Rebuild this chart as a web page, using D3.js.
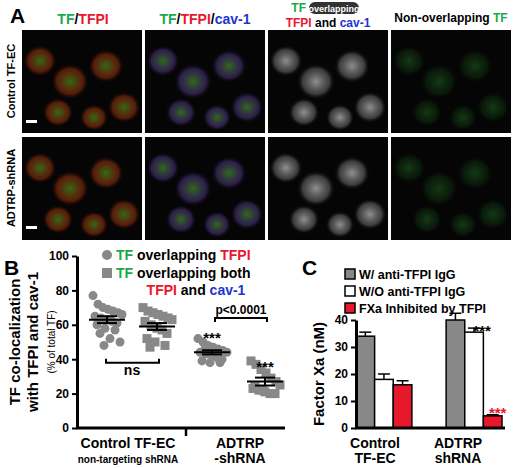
<!DOCTYPE html>
<html><head><meta charset="utf-8">
<script src="https://cdn.jsdelivr.net/npm/d3@7"></script>
<style>body{margin:0;background:#fff}text{font-family:Arial,"Liberation Sans",sans-serif}</style>
</head><body><svg id="c" width="520" height="468"></svg>
<script>
// ---------- data ----------
const bGroups = ["ctrl-TFPI","ctrl-both","adtrp-TFPI","adtrp-both"];
const bValues = [
  [77,72,70,69,68,67,66,65,64,63,62,61,60,58,57,55,52,50,48],
  [70,68,67,66,65,64,63,62,60,58,57,55,52,50,48,47],
  [52,50,48,47,46,45,44,44,43,42,41,40,39,38,38,46],
  [39,37,34,32,29,27,25,23,22,21,20,20,24,22]
];
const bMeans = [63,59,44,27];
const bSems = [2,2,1.2,2.3];
const bTicks = [0,20,40,60,80,100];
const cCategories = ["Control","ADTRP"];
const cSeries = ["W/ anti-TFPI IgG","W/O anti-TFPI IgG","FXa Inhibited by TFPI"];
const cValues = [[34,18,16],[40,35.5,4.5]];
const cErrors = [[1.5,2,1.5],[2.5,1.5,0.4]];
const cTicks = [0,10,20,30,40];

const svg = d3.select("#c");
const G="#1aa84a", R="#e8182c", Bl="#2234d0";

// ---------- panel A (micrograph placeholders) ----------
const cols=[22,145,268,391], rows=[30,137], pw=120, ph=103;
const tints=[["#3c8a1c","#c03a10"],["#3c8a1c","#6040a0"],["#bbbbbb","#888888"],["#2a8a2a","#1a5a1a"]];
const defs=svg.append("defs");
tints.forEach((t,i)=>{
  const g=defs.append("radialGradient").attr("id","g"+i);
  g.append("stop").attr("offset","0%").attr("stop-color",t[0]).attr("stop-opacity",0.9);
  g.append("stop").attr("offset","70%").attr("stop-color",t[1]).attr("stop-opacity",0.5);
  g.append("stop").attr("offset","100%").attr("stop-color","#000").attr("stop-opacity",0);
});
const cells=[[0.15,0.3,0.14],[0.4,0.5,0.16],[0.7,0.35,0.15],[0.85,0.75,0.14],[0.3,0.8,0.13],[0.6,0.85,0.12]];
rows.forEach(ry=>cols.forEach((cx,i)=>{
  svg.append("rect").attr("x",cx).attr("y",ry).attr("width",pw).attr("height",ph).attr("fill","#050505");
  cells.forEach(c=>svg.append("ellipse").attr("cx",cx+c[0]*pw).attr("cy",ry+c[1]*ph)
    .attr("rx",c[2]*pw).attr("ry",c[2]*ph*1.1).attr("fill","url(#g"+i+")").attr("opacity",i==3?0.45:0.85));
}));
[[26,120],[26,226]].forEach(p=>svg.append("rect").attr("x",p[0]).attr("y",p[1]).attr("width",11).attr("height",3).attr("fill","#fff"));
svg.append("text").attr("x",10).attr("y",23).attr("font-size",21).attr("font-weight","bold").text("A");
function rich(x,y,parts,size,anchor){
  const t=svg.append("text").attr("x",x).attr("y",y).attr("font-size",size).attr("font-weight","bold").attr("text-anchor",anchor||"middle");
  parts.forEach(p=>t.append("tspan").attr("fill",p[1]).text(p[0])); return t;}
rich(83,24,[["TF",G],["/","#000"],["TFPI",R]],14);
rich(205,24,[["TF",G],["/","#000"],["TFPI",R],["/","#000"],["cav-1",Bl]],14);
rich(306,12,[["TF",G]],12,"end");
svg.append("rect").attr("x",309).attr("y",2).attr("width",50).attr("height",12).attr("rx",6).attr("fill","#333");
svg.append("text").attr("x",334).attr("y",11.5).attr("font-size",9).attr("font-weight","bold").attr("fill","#fff").attr("text-anchor","middle").text("overlapping");
rich(328,27,[["TFPI",R],[" and ","#000"],["cav-1",Bl]],12);
rich(451,22,[["Non-overlapping ","#000"],["TF",G]],12);
[["Control TF-EC",81],["ADTRP-shRNA",188]].forEach(d=>svg.append("text").attr("transform",`translate(15,${d[1]}) rotate(-90)`)
  .attr("text-anchor","middle").attr("font-size",11).attr("font-weight","bold").text(d[0]));

// ---------- panel B ----------
const by=d3.scaleLinear().domain([0,100]).range([428,256]);
const bx=d3.scaleOrdinal().domain(bGroups).range([107,157,212,265]);
svg.append("text").attr("x",4).attr("y",275).attr("font-size",21).attr("font-weight","bold").text("B");
const ya=svg.append("g").attr("transform","translate(77,0)").call(d3.axisLeft(by).tickValues(bTicks).tickSize(5).tickSizeOuter(0));
ya.select(".domain").attr("stroke-width",3); ya.selectAll(".tick line").attr("stroke-width",2);
ya.selectAll("text").attr("font-size",12).attr("font-weight","bold");
svg.append("line").attr("x1",76).attr("x2",285).attr("y1",428).attr("y2",428).attr("stroke","#000").attr("stroke-width",3);
svg.append("line").attr("x1",186).attr("x2",186).attr("y1",428).attr("y2",436).attr("stroke","#000").attr("stroke-width",2.5);
const offs=[-14,-9,-4,1,6,11,15,-12,-6,0,5,10,-10,-2,8,-7,3,13,-3];
bValues.forEach((vals,gi)=>{
  const cx=bx(bGroups[gi]);
  vals.forEach((v,i)=>{
    const x=cx+offs[i%offs.length], y=by(v);
    if(gi%2==0) svg.append("circle").attr("cx",x).attr("cy",y).attr("r",4.5).attr("fill","#888");
    else svg.append("rect").attr("x",x-4.5).attr("y",y-4.5).attr("width",9).attr("height",9).attr("fill","#888");
  });
  const m=by(bMeans[gi]), hi=by(bMeans[gi]+bSems[gi]), lo=by(bMeans[gi]-bSems[gi]);
  const l=(x1,x2,y1,y2)=>svg.append("line").attr("x1",x1).attr("x2",x2).attr("y1",y1).attr("y2",y2).attr("stroke","#000").attr("stroke-width",2);
  l(cx-18,cx+18,m,m); l(cx-10,cx+10,hi,hi); l(cx-10,cx+10,lo,lo); l(cx,cx,hi,lo);
});
const br=(x1,x2,y,up)=>svg.append("path").attr("d",`M${x1},${y+(up?4:-4)}V${y}H${x2}V${y+(up?4:-4)}`).attr("fill","none").attr("stroke","#000").attr("stroke-width",2);
br(106,159,by(38),false);
svg.append("text").attr("x",132).attr("y",by(31)).attr("font-size",14).attr("font-weight","bold").attr("text-anchor","middle").text("ns");
br(215,267,by(64),true);
svg.append("text").attr("x",241).attr("y",by(66)).attr("font-size",12).attr("font-weight","bold").attr("text-anchor","middle").text("p<0.0001");
[[212,54],[265,37]].forEach(d=>svg.append("text").attr("x",d[0]).attr("y",by(d[1])+8).attr("font-size",15).attr("font-weight","bold").attr("text-anchor","middle").text("***"));
svg.append("circle").attr("cx",107).attr("cy",255).attr("r",5).attr("fill","#888");
rich(116,260,[["TF",G],[" overlapping ","#000"],["TFPI",R]],14,"start");
svg.append("rect").attr("x",102).attr("y",268).attr("width",10).attr("height",10).attr("fill","#888");
rich(116,278,[["TF",G],[" overlapping both","#000"]],14,"start");
rich(196,295,[["TFPI",R],[" and ","#000"],["cav-1",Bl]],14);
[["TF co-localization",20,15,"bold"],["with TFPI and cav-1",38,15,"bold"],["(% of total TF)",55,10,"normal"]].forEach(d=>
  svg.append("text").attr("transform",`translate(${d[1]},342) rotate(-90)`).attr("text-anchor","middle").attr("font-size",d[2]).attr("font-weight",d[3]).text(d[0]));
svg.append("text").attr("x",128).attr("y",448).attr("font-size",14).attr("font-weight","bold").attr("text-anchor","middle").text("Control TF-EC");
svg.append("text").attr("x",128).attr("y",463).attr("font-size",10).attr("font-weight","bold").attr("text-anchor","middle").text("non-targeting shRNA");
svg.append("text").attr("x",240).attr("y",448).attr("font-size",14).attr("font-weight","bold").attr("text-anchor","middle").text("ADTRP");
svg.append("text").attr("x",240).attr("y",463).attr("font-size",14).attr("font-weight","bold").attr("text-anchor","middle").text("-shRNA");

// ---------- panel C ----------
const cy=d3.scaleLinear().domain([0,40]).range([428,320]);
const cx0=d3.scaleBand().domain(cCategories).range([356,502]).paddingInner(0.38).paddingOuter(0);
const cx1=d3.scaleBand().domain(cSeries).range([0,cx0.bandwidth()]);
const fills=["#888","#fff",R];
svg.append("text").attr("x",302).attr("y",275).attr("font-size",21).attr("font-weight","bold").text("C");
cValues.forEach((vals,ci)=>vals.forEach((v,si)=>{
  const x=cx0(cCategories[ci])+cx1(cSeries[si]), w=cx1.bandwidth();
  const e=cErrors[ci][si];
  svg.append("line").attr("x1",x+w/2).attr("x2",x+w/2).attr("y1",cy(v)).attr("y2",cy(v+e)).attr("stroke","#000").attr("stroke-width",1.5);
  svg.append("line").attr("x1",x+w/2-6).attr("x2",x+w/2+6).attr("y1",cy(v+e)).attr("y2",cy(v+e)).attr("stroke","#000").attr("stroke-width",1.5);
  svg.append("rect").attr("x",x).attr("y",cy(v)).attr("width",w).attr("height",cy(0)-cy(v)).attr("fill",fills[si]).attr("stroke","#000").attr("stroke-width",1.5);
}));
const ca=svg.append("g").attr("transform","translate(356,0)").call(d3.axisLeft(cy).tickValues(cTicks).tickSize(5).tickSizeOuter(0));
ca.select(".domain").attr("stroke-width",3); ca.selectAll(".tick line").attr("stroke-width",2);
ca.selectAll("text").attr("font-size",12).attr("font-weight","bold");
svg.append("line").attr("x1",355).attr("x2",505).attr("y1",428).attr("y2",428).attr("stroke","#000").attr("stroke-width",3);
const b2=cx0("ADTRP");
svg.append("text").attr("x",b2+cx1(cSeries[1])+cx1.bandwidth()/2+8).attr("y",cy(37)+8).attr("font-size",15).attr("font-weight","bold").attr("text-anchor","middle").text("***");
svg.append("text").attr("x",b2+cx1(cSeries[2])+cx1.bandwidth()/2+5).attr("y",cy(6)+6).attr("font-size",15).attr("font-weight","bold").attr("fill",R).attr("text-anchor","middle").text("***");
cSeries.forEach((s,i)=>{
  const y=280+i*17;
  svg.append("rect").attr("x",345).attr("y",y-11).attr("width",10).attr("height",10).attr("fill",fills[i]).attr("stroke","#000").attr("stroke-width",1.5);
  svg.append("text").attr("x",359).attr("y",y-1).attr("font-size",12.5).attr("font-weight","bold").text(s);
});
svg.append("text").attr("transform","translate(324,374) rotate(-90)").attr("text-anchor","middle").attr("font-size",15).attr("font-weight","bold").text("Factor Xa (nM)");
[["Control",375,448],["TF-EC",375,463],["ADTRP",458,448],["shRNA",458,463]].forEach(d=>
  svg.append("text").attr("x",d[1]).attr("y",d[2]).attr("font-size",14).attr("font-weight","bold").attr("text-anchor","middle").text(d[0]));
</script></body></html>
